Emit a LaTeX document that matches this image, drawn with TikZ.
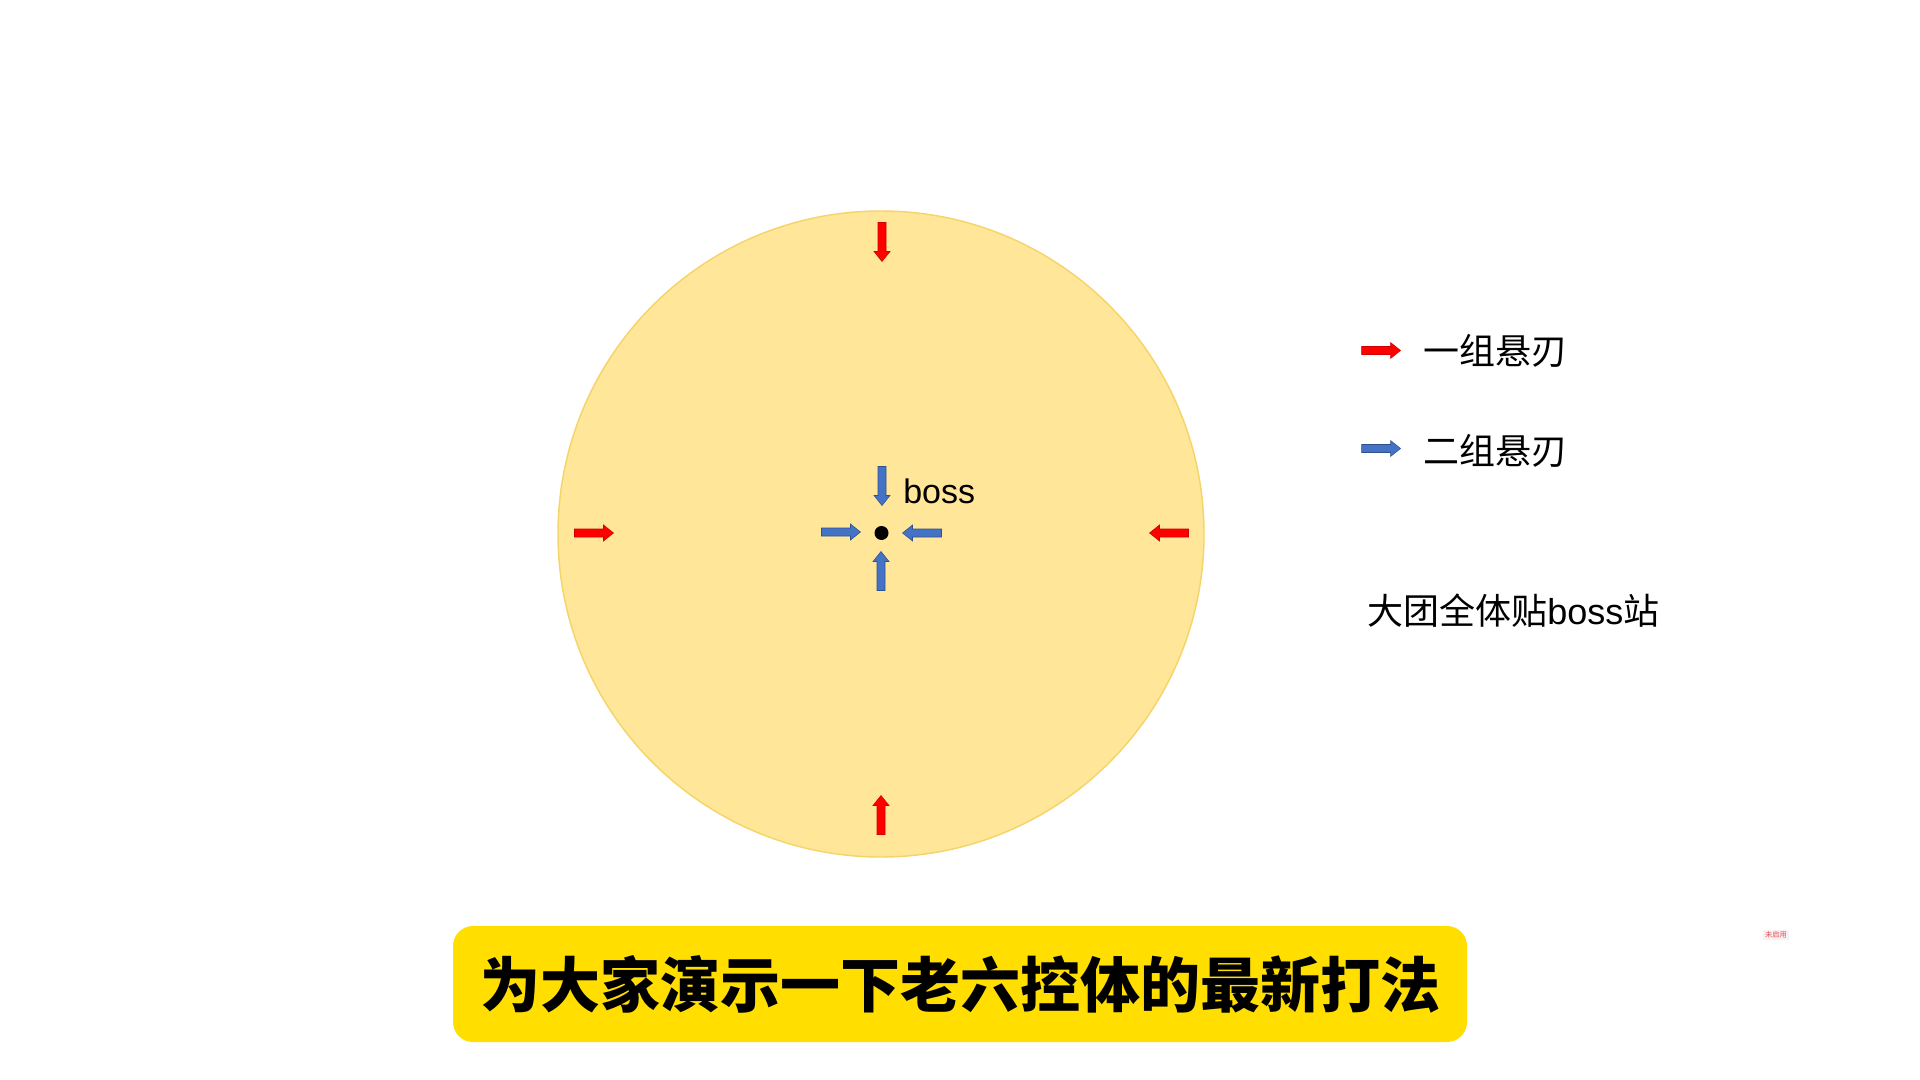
\documentclass[tikz,border=0pt]{standalone}
\usepackage{fontspec}
\newfontfamily\cjk{Noto Sans CJK SC}
\newfontfamily\arialf{Liberation Sans}
\definecolor{arenafill}{HTML}{FFE699}
\definecolor{arenaedge}{HTML}{F5D56A}
\definecolor{bladered}{HTML}{FF0000}
\definecolor{bladereddark}{HTML}{D00000}
\definecolor{bladeblue}{HTML}{4472C4}
\definecolor{bladebluedark}{HTML}{2F528F}
\definecolor{bannerfill}{HTML}{FFDE00}
\definecolor{tinyred}{HTML}{E05555}
\definecolor{tinybg}{HTML}{F8F0F2}
\tikzset{
  blade/.pic={\path[pic actions] (-19.5,-4) -- (9.5,-4) -- (9.5,-8) -- (19.5,0) -- (9.5,8) -- (9.5,4) -- (-19.5,4) -- cycle;},
  redblade/.style={fill=bladered, draw=bladereddark, line width=0.4pt},
  blueblade/.style={fill=bladeblue, draw=bladebluedark, line width=0.4pt},
  legendtext/.style={anchor=west, inner sep=0pt, font=\cjk\fontsize{27pt}{32pt}\selectfont, text=black},
}
\begin{document}
\begin{tikzpicture}[x=0.75pt,y=-0.75pt]
\useasboundingbox (0,0) rectangle (1920,1080);
\fill[white] (0,0) rectangle (1920,1080);
% arena
\node[circle, fill=arenafill, draw=arenaedge, line width=1.1pt, minimum size=484.5pt, inner sep=0pt] (arena) at (881,534) {};
% red blades
\pic[redblade, rotate=-90] (rtop) at (882,242) {blade};
\pic[redblade, rotate=90] (rbot) at (881,815) {blade};
\pic[redblade] (rleft) at (594,533) {blade};
\pic[redblade, rotate=180] (rright) at (1169,533) {blade};
% blue blades
\pic[blueblade, rotate=-90] (btop) at (882,486) {blade};
\pic[blueblade, rotate=90] (bbot) at (881,571) {blade};
\pic[blueblade] (bleft) at (841,532) {blade};
\pic[blueblade, rotate=180] (bright) at (922,533) {blade};
% boss
\node[circle, fill=black, minimum size=10.5pt, inner sep=0pt] (boss) at (881.5,533) {};
\node[anchor=base west, inner sep=0pt, font=\arialf\fontsize{25.5pt}{30pt}\selectfont] (bosslabel) at (903,503) {boss};
% legend
\pic[redblade] (lred) at (1381,350.5) {blade};
\pic[blueblade] (lblue) at (1381,448.5) {blade};
\node[legendtext] (leg1) at (1423,351) {一组悬刃};
\node[legendtext] (leg2) at (1423,451) {二组悬刃};
\node[legendtext] (note) at (1367,611) {大团全体贴{\arialf boss}站};
% banner
\node[fill=bannerfill, rounded corners=15pt, minimum width=760.5pt, minimum height=87pt, inner sep=0pt,
      font=\cjk\bfseries\fontsize{45pt}{50pt}\selectfont] (banner) at (960,984) {为大家演示一下老六控体的最新打法};
% tiny mark
\node[fill=tinybg, inner sep=1.5pt, text=tinyred, font=\cjk\fontsize{5.5pt}{6pt}\selectfont] (tiny) at (1776,935) {未启用};
\end{tikzpicture}
\end{document}
